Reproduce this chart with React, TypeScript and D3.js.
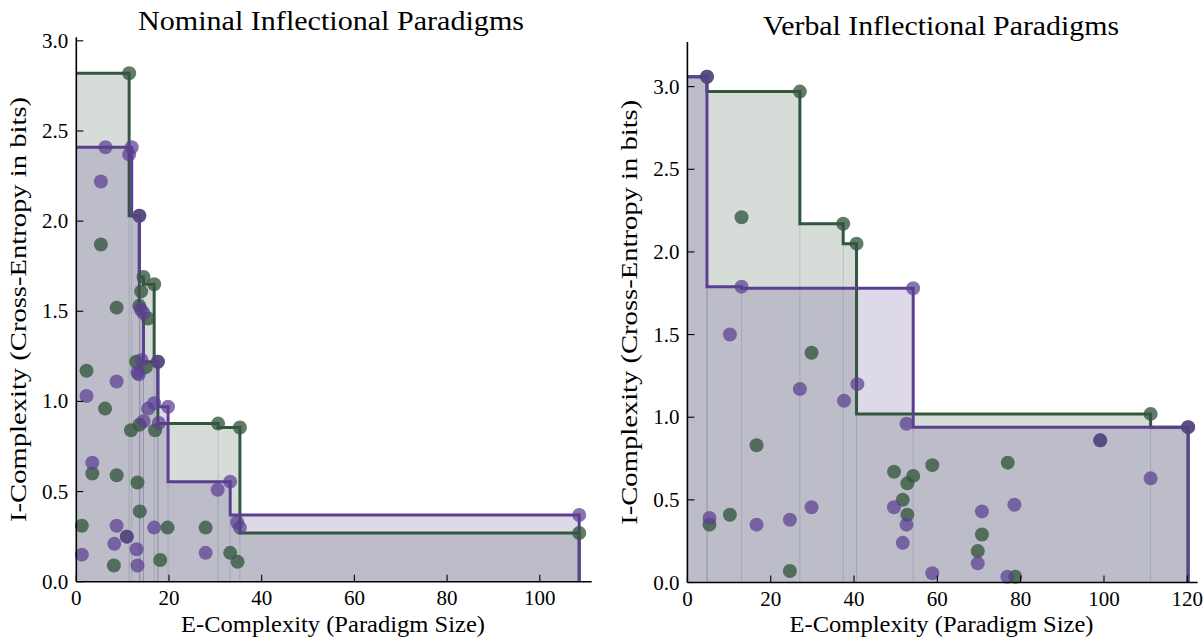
import * as d3 from "d3";

// nominal paradigms: [E-complexity, I-complexity]
const nomGreen: [number, number][] = [
  [1.2, 0.31], [2.2, 1.17], [3.45, 0.6], [5.3, 1.87], [6.2, 0.96], [8.1, 0.09],
  [8.7, 1.52], [8.7, 0.59], [10.9, 0.25], [11.4, 2.82], [11.8, 0.84], [12.9, 1.22],
  [13.2, 0.55], [13.6, 2.03], [13.6, 1.53], [13.6, 0.87], [13.7, 0.39], [14.0, 1.61],
  [14.5, 1.69], [15.0, 1.19], [15.5, 1.46], [16.8, 1.65], [17.0, 0.84], [17.6, 1.22],
  [18.1, 0.12], [19.7, 0.3], [27.9, 0.3], [30.6, 0.877], [33.2, 0.16], [34.8, 0.11],
  [35.3, 0.855], [108.5, 0.27],
];
const nomPurple: [number, number][] = [
  [1.2, 0.15], [2.2, 1.03], [3.45, 0.66], [5.3, 2.22], [6.3, 2.41], [8.2, 0.21],
  [8.7, 1.11], [8.7, 0.31], [10.9, 0.25], [11.4, 2.37], [11.95, 2.41], [13.0, 0.18],
  [13.2, 0.09], [13.2, 1.16], [13.5, 1.15], [13.6, 2.03], [13.9, 1.51], [14.1, 1.23],
  [14.5, 1.49], [14.5, 0.89], [15.5, 0.96], [16.8, 0.99], [16.8, 0.3], [17.6, 1.22],
  [17.8, 0.88], [19.8, 0.97], [27.9, 0.16], [30.5, 0.51], [33.2, 0.555], [34.7, 0.33],
  [35.3, 0.3], [108.5, 0.37],
];
const nomGreenFrontier: [number, number][] = [
  [11.4, 2.82], [13.6, 2.03], [14.5, 1.69], [16.8, 1.65], [17.6, 1.22],
  [30.6, 0.877], [35.3, 0.855], [108.5, 0.27],
];
const nomPurpleFrontier: [number, number][] = [
  [11.95, 2.41], [13.6, 2.03], [13.9, 1.51], [14.5, 1.49], [17.6, 1.22],
  [19.8, 0.97], [33.2, 0.555], [108.5, 0.37],
];

// verbal paradigms
const verbGreen: [number, number][] = [
  [4.7, 3.06], [5.3, 0.35], [10.2, 0.41], [13.0, 2.21], [16.6, 0.83], [24.6, 0.07],
  [27.0, 2.97], [29.8, 1.39], [37.4, 2.17], [40.6, 2.05], [49.6, 0.67], [51.7, 0.5],
  [52.8, 0.6], [52.8, 0.41], [54.2, 0.645], [58.8, 0.71], [69.7, 0.19], [70.7, 0.29],
  [76.9, 0.725], [78.7, 0.035], [99.1, 0.86], [111.2, 1.02], [120.2, 0.94],
];
const verbPurple: [number, number][] = [
  [4.7, 3.06], [5.3, 0.39], [10.2, 1.5], [13.0, 1.79], [16.6, 0.35], [24.6, 0.38],
  [27.0, 1.17], [29.8, 0.455], [37.6, 1.1], [40.8, 1.2], [49.6, 0.455], [51.7, 0.24],
  [52.6, 0.96], [52.6, 0.35], [54.2, 1.78], [58.8, 0.056], [69.7, 0.116], [70.7, 0.43],
  [76.8, 0.035], [78.5, 0.47], [99.1, 0.86], [111.2, 0.63], [120.2, 0.94],
];
const verbGreenFrontier: [number, number][] = [
  [4.7, 3.06], [27.0, 2.97], [37.4, 2.17], [40.6, 2.05], [111.2, 1.02], [120.2, 0.94],
];
const verbPurpleFrontier: [number, number][] = [
  [4.7, 3.06], [13.0, 1.79], [54.2, 1.78], [120.2, 0.94],
];

const yTicks = [0, 0.5, 1.0, 1.5, 2.0, 2.5, 3.0];
const nomXTicks = [0, 20, 40, 60, 80, 100];
const verbXTicks = [0, 20, 40, 60, 80, 100, 120];

const GREEN = "#34563f";
const PURPLE = "#5b3f91";
const FONT = "Liberation Serif";

function stepPoints(front: [number, number][]) {
  const pts: [number, number][] = [[0, front[0][1]]];
  front.forEach(([x, y], i) => {
    pts.push([x, y]);
    const next = i < front.length - 1 ? front[i + 1][1] : 0;
    pts.push([x, next]);
  });
  return pts;
}

interface PanelProps {
  title: string;
  titleX: number;
  titleY: number;
  titleLen: number;
  green: [number, number][];
  purple: [number, number][];
  greenFront: [number, number][];
  purpleFront: [number, number][];
  xDomain: number;
  xRange: [number, number];
  yDomain: number;
  yRange: [number, number];
  xTicks: number[];
  yLabelX: number;
}

function Panel(p: PanelProps) {
  const x = d3.scaleLinear().domain([0, p.xDomain]).range(p.xRange);
  const y = d3.scaleLinear().domain([0, p.yDomain]).range(p.yRange);
  const line = d3
    .line<[number, number]>()
    .x((d) => x(d[0]))
    .y((d) => y(d[1]));
  const fronts = [
    { f: p.greenFront, c: GREEN },
    { f: p.purpleFront, c: PURPLE },
  ];
  const x0 = p.xRange[0];
  const yb = p.yRange[0];
  const midX = (p.xRange[0] + p.xRange[1]) / 2;
  const midY = (p.yRange[0] + p.yRange[1]) / 2;

  return (
    <g>
      {fronts.map(({ f, c }) => {
        const pts = stepPoints(f);
        return (
          <path
            key={"fill" + c}
            d={line([[0, 0], ...pts, [0, 0]]) + "Z"}
            fill={c}
            fillOpacity={0.2}
            stroke="none"
          />
        );
      })}
      {fronts.map(({ f, c }) =>
        f.slice(0, -1).map(([fx], i) => (
          <line
            key={"seam" + c + i}
            x1={x(fx)}
            x2={x(fx)}
            y1={y(0)}
            y2={y(f[i + 1][1])}
            stroke={c}
            strokeOpacity={0.25}
            strokeWidth={0.8}
          />
        )),
      )}
      {fronts.map(({ f, c }) => (
        <path
          key={"line" + c}
          d={line(stepPoints(f)) ?? ""}
          fill="none"
          stroke={c}
          strokeWidth={3}
          strokeLinejoin="miter"
        />
      ))}
      {p.green.map((d, i) => (
        <circle key={"g" + i} cx={x(d[0])} cy={y(d[1])} r={7} fill={GREEN} fillOpacity={0.78} />
      ))}
      {p.purple.map((d, i) => (
        <circle key={"p" + i} cx={x(d[0])} cy={y(d[1])} r={7} fill={PURPLE} fillOpacity={0.72} />
      ))}

      {/* axes */}
      <line x1={x0} x2={x0} y1={yb} y2={p.yRange[1]} stroke="#000" strokeWidth={1.6} />
      <line x1={x0} x2={p.xRange[1]} y1={yb} y2={yb} stroke="#000" strokeWidth={1.6} />
      {yTicks.map((t) => (
        <g key={"yt" + t}>
          <line x1={x0} x2={x0 + 7} y1={y(t)} y2={y(t)} stroke="#000" strokeWidth={1.1} />
          <text x={x0 - 8} y={y(t) + 7} textAnchor="end" fontSize={21}>
            {t.toFixed(1)}
          </text>
        </g>
      ))}
      {p.xTicks.map((t) => (
        <g key={"xt" + t}>
          <line x1={x(t)} x2={x(t)} y1={yb} y2={yb - 7} stroke="#000" strokeWidth={1.1} />
          <text x={x(t)} y={yb + 23} textAnchor="middle" fontSize={21}>
            {t}
          </text>
        </g>
      ))}

      <text
        x={p.titleX}
        y={p.titleY}
        textAnchor="middle"
        fontSize={28}
        textLength={p.titleLen}
        lengthAdjust="spacingAndGlyphs"
      >
        {p.title}
      </text>
      <text
        x={midX - 1}
        y={632}
        textAnchor="middle"
        fontSize={23.5}
        textLength={304}
        lengthAdjust="spacingAndGlyphs"
      >
        E-Complexity (Paradigm Size)
      </text>
      <text
        transform={`translate(${p.yLabelX},${midY}) rotate(-90)`}
        textAnchor="middle"
        fontSize={23.5}
        textLength={425}
        lengthAdjust="spacingAndGlyphs"
      >
        I-Complexity (Cross-Entropy in bits)
      </text>
    </g>
  );
}

export default function App() {
  return (
    <svg
      width={1204}
      height={638}
      fontFamily={FONT}
      fill="#000"
      style={{ position: "absolute", left: 0, top: 0, background: "#fff", fontFamily: FONT }}
    >
      <Panel
        title="Nominal Inflectional Paradigms"
        titleX={331}
        titleY={30}
        titleLen={386}
        green={nomGreen}
        purple={nomPurple}
        greenFront={nomGreenFrontier}
        purpleFront={nomPurpleFrontier}
        xDomain={111.2}
        xRange={[76.3, 591.7]}
        yDomain={3.02}
        yRange={[581.7, 37.2]}
        xTicks={nomXTicks}
        yLabelX={26}
      />
      <Panel
        title="Verbal Inflectional Paradigms"
        titleX={941}
        titleY={35}
        titleLen={356}
        green={verbGreen}
        purple={verbPurple}
        greenFront={verbGreenFrontier}
        purpleFront={verbPurpleFrontier}
        xDomain={122.5}
        xRange={[687.4, 1197.7]}
        yDomain={3.27}
        yRange={[582.5, 42]}
        xTicks={verbXTicks}
        yLabelX={637}
      />
    </svg>
  );
}
